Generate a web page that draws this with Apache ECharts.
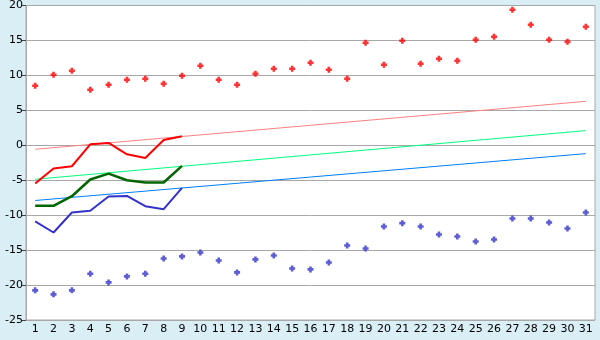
<!DOCTYPE html>
<html>
<head>
<meta charset="utf-8">
<script src="https://cdn.jsdelivr.net/npm/echarts@6/dist/echarts.min.js"></script>
<style>
html,body{margin:0;padding:0;background:#D9EEF5;}
#c{width:600px;height:340px;}
</style>
</head>
<body>
<div id="c"></div>
<script>
var days = [];
for (var i = 1; i <= 31; i++) days.push(String(i));

var maxPoints = [8.53,10.1,10.67,7.95,8.67,9.38,9.52,8.81,9.95,11.38,9.38,8.67,10.24,10.95,10.95,11.81,10.81,9.52,14.67,11.52,14.95,11.67,12.38,12.1,15.1,15.52,19.38,17.24,15.1,14.81,16.95];
var minPoints = [-20.76,-21.33,-20.76,-18.38,-19.62,-18.76,-18.38,-16.19,-15.9,-15.33,-16.48,-18.19,-16.33,-15.76,-17.62,-17.76,-16.76,-14.33,-14.76,-11.62,-11.14,-11.62,-12.76,-13.05,-13.76,-13.48,-10.48,-10.48,-11.05,-11.9,-9.62];
var maxLine = [-5.48,-3.33,-3.0,0.14,0.33,-1.29,-1.81,0.76,1.29];
var meanLine = [-8.67,-8.67,-7.29,-4.9,-4.05,-5.0,-5.33,-5.33,-2.95];
var minLine = [-10.9,-12.48,-9.62,-9.38,-7.33,-7.24,-8.71,-9.14,-6.1];
var trendMax = [-0.57, 6.29];
var trendMean = [-4.86, 2.1];
var trendMin = [-7.9, -1.19];
var yTicks = {min: -25, max: 20, interval: 5};

function endpoints(pair) {
  var arr = [];
  for (var i = 0; i < days.length; i++) arr.push(null);
  arr[0] = pair[0];
  arr[days.length - 1] = pair[1];
  return arr;
}

var plusMark = 'path://M2,0H5V2H7V5H5V7H2V5H0V2H2Z';
var chart = echarts.init(document.getElementById('c'));
var font = 'DejaVu Sans';
chart.setOption({
  backgroundColor: '#D9EEF5',
  animation: false,
  grid: {left: 26, right: 5, top: 5, bottom: 20, show: true, backgroundColor: '#FFFFFF', borderColor: '#A8A8A8', borderWidth: 1},
  xAxis: {
    type: 'category', data: days, boundaryGap: true,
    axisLine: {lineStyle: {color: '#A8A8A8', width: 1}},
    axisTick: {alignWithLabel: true, length: 5, lineStyle: {color: '#444'}},
    axisLabel: {color: '#000', fontFamily: font, fontSize: 11, margin: 4, interval: 0},
    splitLine: {show: false}
  },
  yAxis: {
    type: 'value', min: yTicks.min, max: yTicks.max, interval: yTicks.interval,
    axisLine: {show: true, lineStyle: {color: '#A8A8A8', width: 1}},
    axisTick: {show: true, length: 4, lineStyle: {color: '#444'}},
    axisLabel: {color: '#000', fontFamily: font, fontSize: 11, margin: 3},
    splitLine: {lineStyle: {color: '#A8A8A8', width: 1}}
  },
  series: [
    {type: 'line', data: endpoints(trendMax), connectNulls: true, symbol: 'none', lineStyle: {color: '#FF8080', width: 1}},
    {type: 'line', data: endpoints(trendMean), connectNulls: true, symbol: 'none', lineStyle: {color: '#00FF80', width: 1}},
    {type: 'line', data: endpoints(trendMin), connectNulls: true, symbol: 'none', lineStyle: {color: '#0080FF', width: 1}},
    {type: 'line', data: maxLine, symbol: 'none', lineStyle: {color: '#FF0000', width: 2}},
    {type: 'line', data: meanLine, symbol: 'none', lineStyle: {color: '#006600', width: 2.5}},
    {type: 'line', data: minLine, symbol: 'none', lineStyle: {color: '#3333CC', width: 2}},
    {type: 'scatter', data: maxPoints, symbol: plusMark, symbolSize: 6, itemStyle: {color: '#FF0000'}},
    {type: 'scatter', data: minPoints, symbol: plusMark, symbolSize: 6, itemStyle: {color: '#3333CC'}}
  ]
});
</script>
</body>
</html>
